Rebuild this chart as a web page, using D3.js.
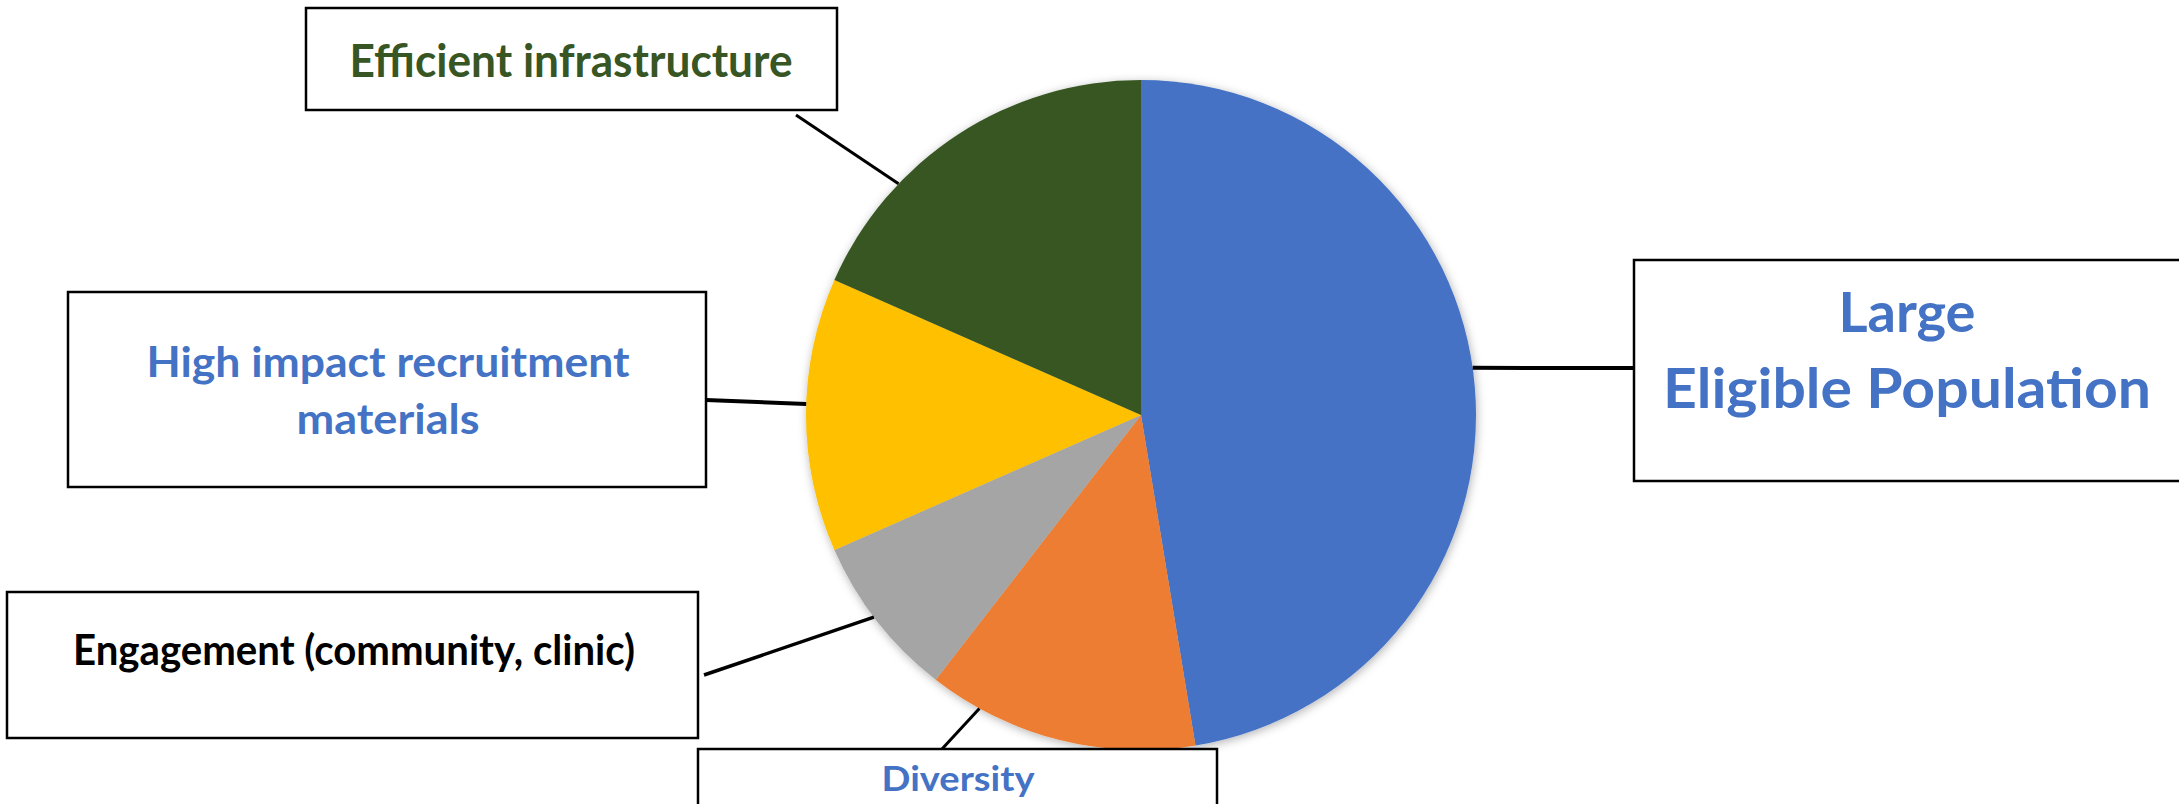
<!DOCTYPE html>
<html>
<head>
<meta charset="utf-8">
<script src="https://cdn.jsdelivr.net/npm/d3@7"></script>
<style>
  body { margin: 0; background: #fff; }
  text { font-family: Lato, "Open Sans", sans-serif; font-weight: 700; }
</style>
</head>
<body>
<div id="chart"></div>
<script>
// slice data, clockwise from 12 o'clock
const categories = ["Large Eligible Population", "Diversity", "Engagement (community, clinic)",
  "High impact recruitment materials", "Efficient infrastructure"];
const shares = [47.4, 13.1, 7.9, 13.2, 18.4];
const colors = ["#4472C4", "#ED7D31", "#A5A5A5", "#FFC000", "#375623"];

// label text, split into lines as in the picture
const labelLines = [["Large", "Eligible Population"], ["Diversity"], ["Engagement (community, clinic)"],
  ["High impact recruitment", "materials"], ["Efficient infrastructure"]];
const labelColors = ["#4472C4", "#4472C4", "#000000", "#4472C4", "#375623"];

const width = 2179, height = 804;
const cx = 1141, cy = 415, radius = 335;

// callout box layout (same order as the slices)
// t = where along the slice the leader line touches the rim
const boxes = [
  { x: 1634, y: 260, w: 620, h: 221, fs: 56, base: [332, 408], tw: [137, 488], tx: 1907, anchor: [1634, 368], t: 0.48, sw: 4 },
  { x: 698, y: 749, w: 519, h: 120, fs: 35, base: [791], tw: [153], tx: 958, anchor: [942, 749], t: 0.81, sw: 3 },
  { x: 7, y: 592, w: 691, h: 146, fs: 42, base: [665], tw: [562], tx: 354, anchor: [704, 675], t: 0.53, sw: 3.5 },
  { x: 68, y: 292, w: 638, h: 195, fs: 42, base: [377, 434], tw: [483, 183], tx: 388, anchor: [706, 400], t: 0.54, sw: 4 },
  { x: 306, y: 8, w: 531, h: 102, fs: 45, base: [77], tw: [443], tx: 571, anchor: [796, 115], t: 0.30, sw: 3 }
];

const svg = d3.select("#chart")
  .append("svg")
  .attr("width", width)
  .attr("height", height);

const defs = svg.append("defs");
defs.append("filter")
  .attr("id", "shadow")
  .attr("x", "-10%").attr("y", "-10%")
  .attr("width", "120%").attr("height", "120%")
  .append("feDropShadow")
  .attr("dx", 1).attr("dy", 2)
  .attr("stdDeviation", 5)
  .attr("flood-color", "#000")
  .attr("flood-opacity", 0.3);

const pie = d3.pie().sort(null).value(d => d);
const arcs = pie(shares);
const arc = d3.arc().innerRadius(0).outerRadius(radius);

const g = svg.append("g")
  .attr("transform", `translate(${cx},${cy})`)
  .attr("filter", "url(#shadow)");

g.selectAll("path")
  .data(arcs)
  .join("path")
  .attr("d", arc)
  .attr("fill", (d, i) => colors[i]);

// leader lines
const leaders = svg.append("g");
arcs.forEach((a, i) => {
  const b = boxes[i];
  const ang = a.startAngle + b.t * (a.endAngle - a.startAngle);
  const p = d3.pointRadial(ang, radius);
  leaders.append("line")
    .attr("x1", b.anchor[0]).attr("y1", b.anchor[1])
    .attr("x2", cx + p[0]).attr("y2", cy + p[1])
    .attr("stroke", "#000")
    .attr("stroke-width", b.sw);
});

// callout boxes
const labels = svg.append("g")
  .selectAll("g")
  .data(categories)
  .join("g");

labels.append("rect")
  .attr("x", (d, i) => boxes[i].x)
  .attr("y", (d, i) => boxes[i].y)
  .attr("width", (d, i) => boxes[i].w)
  .attr("height", (d, i) => boxes[i].h)
  .attr("fill", "#fff")
  .attr("stroke", "#000")
  .attr("stroke-width", 2.5);

labels.each(function (d, i) {
  const b = boxes[i];
  d3.select(this).selectAll("text")
    .data(labelLines[i])
    .join("text")
    .attr("x", b.tx)
    .attr("y", (l, j) => b.base[j])
    .attr("text-anchor", "middle")
    .attr("font-size", b.fs)
    .attr("textLength", (l, j) => b.tw[j])
    .attr("lengthAdjust", "spacingAndGlyphs")
    .attr("fill", labelColors[i])
    .text(l => l);
});
</script>
</body>
</html>
